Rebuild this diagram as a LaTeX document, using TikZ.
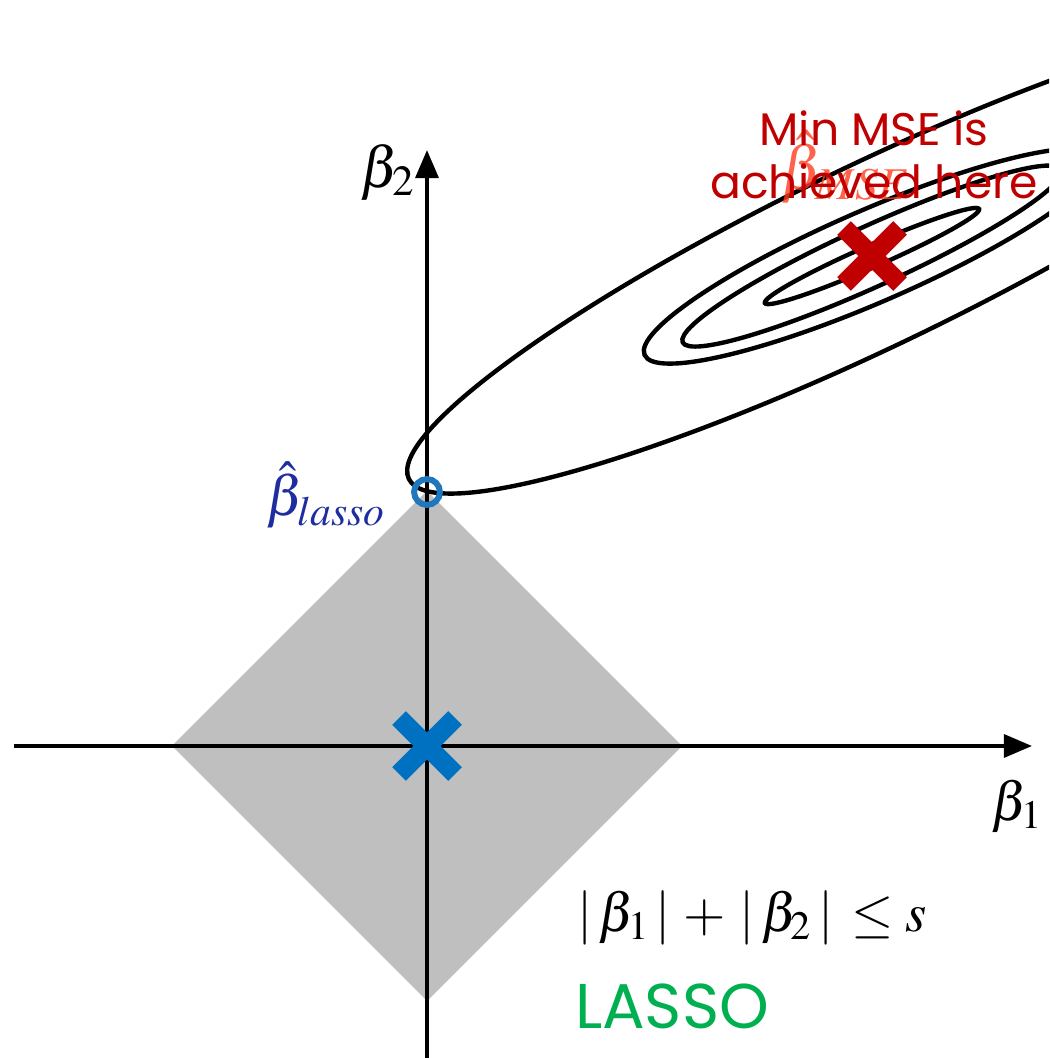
\documentclass[tikz,border=0pt]{standalone}
\usepackage{mathptmx}
\usepackage{fontspec}
\newfontfamily\popfont{Poppins}
\usetikzlibrary{arrows.meta}

\definecolor{lassoblue}{RGB}{0,112,192}
\definecolor{ringblue}{RGB}{31,120,190}
\definecolor{labelblue}{RGB}{30,45,160}
\definecolor{msered}{RGB}{192,0,0}
\definecolor{hatred}{RGB}{255,60,30}
\definecolor{lassogreen}{RGB}{0,176,80}
\definecolor{ballgray}{RGB}{191,191,191}

\begin{document}
\begin{tikzpicture}[x=0.02cm,y=0.02cm,
  axis/.style={line width=2.3pt,-{Triangle[length=16pt,width=13pt]}},
  contour/.style={line width=2.5pt},
  cross/.style={line width=11pt},
  mathlbl/.style={inner sep=0pt}]
\useasboundingbox (0,0) rectangle (1049,1058);
\clip (0,0) rectangle (1049,1058);
\coordinate (o) at (427,312);
\coordinate (ctr) at (872,802);
\coordinate (xl) at (14,312);
\coordinate (xr) at (1032,312);
\coordinate (yb) at (427,0);
\coordinate (yt) at (427,908);
% constraint region
\fill[ballgray] (172,312) -- (427,567) -- (682,312) -- (427,57) -- cycle;
\draw[axis] (xl) -- (xr);
\draw[axis] (yb) -- (yt);
\draw[cross,lassoblue] (o) ++(-28,-28) -- ++(56,56) (o) ++(-28,28) -- ++(56,-56);
% contours of the MSE
\draw[contour,rotate around={25.7:(ctr)}] (ctr) ellipse [x radius=514, y radius=91];
\draw[contour,rotate around={23.5:(ctr)}] (ctr) ellipse [x radius=248, y radius=46];
\draw[contour,rotate around={24.5:(ctr)}] (ctr) ellipse [x radius=208, y radius=30];
\draw[contour,rotate around={23.7:(ctr)}] (ctr) ellipse [x radius=117, y radius=11];
\node[draw=ringblue,line width=3.4pt,circle,minimum size=14.7pt,inner sep=0pt] (lasso) at (427,566) {};
\draw[cross,msered] (ctr) ++(-28,-28) -- ++(56,56) (ctr) ++(-28,28) -- ++(56,-56);
\node[mathlbl,text=hatred,opacity=.8,font=\fontsize{35}{35}\selectfont] (msehat) at (846,891) {$\hat{\beta}_{MSE}$};
\node[text=msered,font=\popfont\fontsize{26}{30}\selectfont,align=center] (note) at (874,903) {Min MSE is\\achieved here};
\node[mathlbl,text=labelblue,font=\fontsize{32}{32}\selectfont] (lassolbl) at (326,563) {$\hat{\beta}_{lasso}$};
\node[mathlbl,font=\fontsize{33}{33}\selectfont] (b2) at (388,886) {$\beta_2$};
\node[mathlbl,font=\fontsize{31}{31}\selectfont] (b1) at (1017,252) {$\beta_1$};
\node[mathlbl,font=\fontsize{31}{31}\selectfont] (rule) at (752,140) {$|\,\beta_1\,|\, + \,|\,\beta_2\,|\, \leq s$};
\node[text=lassogreen,font=\popfont\fontsize{36}{36}\selectfont] (name) at (672,52) {LASSO};
\end{tikzpicture}
\end{document}
